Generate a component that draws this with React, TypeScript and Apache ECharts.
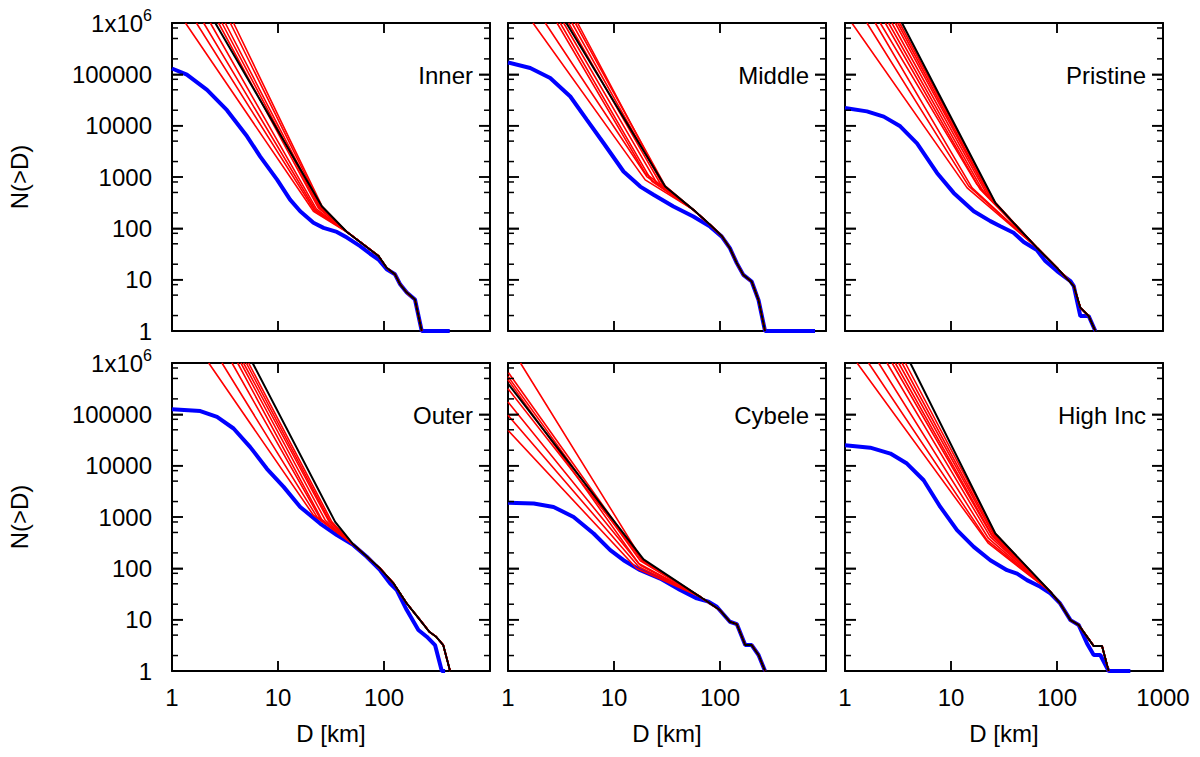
import React, { useEffect, useRef } from 'react';
import * as echarts from 'echarts';

const FONT = '"Liberation Sans", Arial, Helvetica, sans-serif';

// ---- axis data ----
const X_MIN = 1;
const X_MAX = 1000;
const Y_MIN = 1;
const Y_MAX = 1000000;
const X_MAJOR_TICKS = [1, 10, 100, 1000];
const Y_MAJOR_TICKS = [1, 10, 100, 1000, 10000, 100000, 1000000];
const Y_MINOR_TICKS = [
  2, 5, 8, 20, 50, 80, 200, 500, 800, 2000, 5000, 8000,
  20000, 50000, 80000, 200000, 500000, 800000,
];
const PANEL_NAMES = ['Inner', 'Middle', 'Pristine', 'Outer', 'Cybele', 'High Inc'];

// ---- Inner ----
const innerBlue = [
  [1, 130000], [1.38, 99000], [2.14, 50000], [3.3, 20000], [5.1, 6200], [6.8, 2500],
  [9.8, 890], [13, 363], [16.2, 215], [21.6, 128], [26.9, 102], [35.9, 85], [44.7, 66],
  [59.6, 45], [74, 32], [88.7, 24.7], [106, 15.9], [127, 12.7], [142, 8.1], [164, 5.6],
  [196, 4.1], [227, 1], [417, 1],
];
const innerBlack = [
  [2.56, 1000000], [25.9, 270], [44.7, 85], [88.7, 29], [106, 17], [127, 12.7],
  [142, 8.1], [164, 5.6], [196, 4.1], [227, 1],
];
const innerRedStarts = [
  [1.34, 1000000], [1.7, 1000000], [1.99, 1000000], [2.3, 1000000], [2.75, 1000000],
  [2.96, 1000000], [3.18, 1000000], [3.55, 1000000], [3.81, 1000000],
];
const innerRedBreaks = [
  [21.6, 215], [22, 225], [22.5, 230], [23, 240], [24, 250], [24.5, 255], [25, 260],
  [25.5, 265], [26, 270],
];

// ---- Middle ----
const middleBlue = [
  [1, 170000], [1.62, 133000], [2.5, 85000], [3.87, 37000], [5.55, 13000], [7.96, 4600],
  [12.3, 1280], [17.7, 650], [23.6, 450], [36.4, 266], [56, 170], [80.7, 108], [104, 69],
  [124, 41], [144, 21], [166, 12.4], [199, 9.2], [231, 4.0], [266, 1], [788, 1],
];
const middleBlack = [
  [3.55, 1000000], [30.4, 653], [56.2, 229], [80.7, 117], [104, 71], [124, 41], [144, 21],
  [166, 12.4], [199, 9.2], [231, 4.0], [266, 1],
];
const middleRedStarts = [
  [1.72, 1000000], [2.25, 1000000], [2.9, 1000000], [3.11, 1000000], [3.35, 1000000],
  [3.73, 1000000], [4.01, 1000000], [4.31, 1000000], [4.54, 1000000],
];
const middleRedBreaks = [
  [19.7, 880], [20.4, 1020], [19.7, 1190], [22.8, 820], [25.4, 760], [27.3, 740],
  [28.9, 705], [30.4, 673], [29.3, 694],
];

// ---- Pristine ----
const pristineBlue = [
  [1, 22000], [1.61, 19000], [2.32, 15000], [3.32, 9700], [4.78, 4500], [7.38, 1200],
  [10.6, 490], [16.4, 215], [23.5, 138], [29.2, 110], [38.9, 82], [48.5, 54], [64.6, 37.7],
  [77.6, 23], [100, 14.7], [134, 9.4], [144, 7.5], [166, 1.96], [199, 1.96], [230, 1],
];
const pristineBlack = [
  [3.45, 1000000], [26.2, 314], [38.9, 128], [64.6, 42], [100, 17], [144, 7.5],
  [166, 2.85], [199, 1.96], [230, 1],
];
const pristineRedStarts = [
  [1.16, 1000000], [1.61, 1000000], [1.93, 1000000], [2.15, 1000000], [2.4, 1000000],
  [2.58, 1000000], [2.77, 1000000], [2.98, 1000000], [3.14, 1000000], [3.28, 1000000],
];
const pristineRedBreaks = [
  [14.2, 614], [14.7, 665], [15.8, 614], [17.6, 713], [18.9, 570], [20.3, 506],
  [21.9, 455], [23.5, 393], [24.4, 363], [25.6, 337],
];

// ---- Outer ----
const outerBlue = [
  [1, 125000], [1.85, 116000], [2.66, 89000], [3.81, 53000], [5.47, 23000], [7.86, 8700],
  [11.3, 3860], [16.2, 1570], [25, 746], [35.9, 443], [51.5, 283], [68.8, 168], [92, 92],
  [114, 51], [132, 37.7], [164, 15.4], [211, 6.3], [253, 4.66], [303, 3.2], [351, 1], [377, 1],
];
const outerBlack = [
  [5.76, 1000000], [34.6, 804], [51.5, 290], [68.8, 170], [92, 99], [123, 51], [164, 20.7],
  [219, 9.8], [268, 5.8], [310, 4.66], [362, 3.2], [420, 1],
];
const outerRedStarts = [
  [2.22, 1000000], [2.96, 1000000], [3.68, 1000000], [4.16, 1000000], [4.47, 1000000],
  [4.73, 1000000], [5.02, 1000000], [5.28, 1000000],
];
const outerRedBreaks = [
  [21.6, 1084], [23.3, 1006], [25, 934], [25.9, 893], [27.9, 865], [30, 840], [31.1, 804],
  [32.2, 804],
];

// ---- Cybele ----
const cybeleBlue = [
  [1, 1900], [1.75, 1830], [2.69, 1570], [4.16, 1000], [6.42, 477], [9.22, 226], [12.3, 144],
  [17.7, 92], [27.3, 63], [42.1, 37.7], [60.4, 26], [77.8, 22.4], [93.3, 17.9], [124, 9.1],
  [144, 8.2], [173, 3.2], [199, 3.2], [231, 2.05], [266, 1],
];
const cybeleBlack = [
  [1, 395000], [19, 149], [65, 27.9], [100, 15.3], [124, 9.1], [144, 8.2], [173, 3.2],
  [199, 3.2], [231, 2.05], [266, 1],
];
const cybeleRedStarts = [
  [1.31, 1000000], [1, 667000], [1, 548000], [1, 472000], [1, 316000], [1, 174000],
  [1, 95700], [1, 49000],
];
const cybeleRedBreaks = [
  [19, 134], [18.3, 144], [17.7, 140], [17.1, 124], [18.3, 150], [17.7, 115], [17.1, 107],
  [16.4, 99],
];

// ---- High Inc ----
const highBlue = [
  [1, 25000], [1.73, 22400], [2.68, 17200], [3.84, 11000], [5.52, 5200], [7.93, 1570],
  [11.4, 553], [16.4, 262], [23.5, 144], [33.8, 92], [42, 79], [52.1, 59], [69.6, 43.7],
  [86.5, 32.4], [107, 20.7], [134, 9.8], [160, 7.9], [192, 3.45], [222, 2.05], [256, 2.05],
  [307, 1], [492, 1],
];
const highBlack = [
  [4.13, 1000000], [26.2, 477], [86.5, 35], [107, 20.7], [134, 9.8], [160, 7.9],
  [222, 3.06], [266, 3.06], [307, 1],
];
const highRedStarts = [
  [1.3, 1000000], [1.67, 1000000], [2.08, 1000000], [2.49, 1000000], [2.78, 1000000],
  [2.98, 1000000], [3.21, 1000000], [3.45, 1000000], [3.71, 1000000],
];
const highRedBreaks = [
  [22.6, 305], [21.9, 354], [22.6, 382], [23.5, 410], [24.4, 423], [24.4, 443], [25.3, 443],
  [25.6, 463], [26.2, 477],
];

// index in the black curve where the red fits rejoin it
const RED_JOIN = [2, 2, 3, 2, 2, 2];

const PANELS = [
  { blue: innerBlue, black: innerBlack, starts: innerRedStarts, breaks: innerRedBreaks },
  { blue: middleBlue, black: middleBlack, starts: middleRedStarts, breaks: middleRedBreaks },
  { blue: pristineBlue, black: pristineBlack, starts: pristineRedStarts, breaks: pristineRedBreaks },
  { blue: outerBlue, black: outerBlack, starts: outerRedStarts, breaks: outerRedBreaks },
  { blue: cybeleBlue, black: cybeleBlack, starts: cybeleRedStarts, breaks: cybeleRedBreaks },
  { blue: highBlue, black: highBlack, starts: highRedStarts, breaks: highRedBreaks },
];

// ---- layout ----
const COL_LEFT = [172, 508, 845];
const ROW_TOP = [23, 363];
const PW = 318;
const PH = 308;
const X_TICK_LEN = 10;
const Y_MAJOR_LEN = 11;
const Y_MINOR_LEN = 6;

function buildOption() {
  const grid: any[] = [];
  const xAxis: any[] = [];
  const yAxis: any[] = [];
  const series: any[] = [];

  const frame = { color: '#000', width: 2 };
  const tickLine = { color: '#000', width: 1.5 };
  const labelBase = { color: '#000', fontFamily: FONT, fontSize: 24 };

  PANELS.forEach((p, i) => {
    const r = Math.floor(i / 3);
    const c = i % 3;
    grid.push({
      left: COL_LEFT[c], top: ROW_TOP[r], width: PW, height: PH,
      containLabel: false, outerBoundsMode: 'none', show: false,
    });

    const xBase = {
      type: 'log', logBase: 10, gridIndex: i, min: X_MIN, max: X_MAX,
      splitLine: { show: false }, splitArea: { show: false }, minorTick: { show: false },
      minorSplitLine: { show: false },
      axisTick: { show: true, inside: true, length: X_TICK_LEN, lineStyle: tickLine },
      axisLine: { show: true, onZero: false, lineStyle: frame },
    };
    xAxis.push({
      ...xBase, position: 'bottom',
      axisLabel: {
        show: r === 1, margin: 14, ...labelBase,
        formatter: (v: number) => (c < 2 && v >= 999 ? '' : String(Math.round(v))),
      },
      name: r === 1 ? 'D [km]' : '', nameLocation: 'middle', nameGap: 50,
      nameTextStyle: { ...labelBase },
    });
    xAxis.push({ ...xBase, position: 'top', axisLabel: { show: false } });

    const yBase = {
      type: 'log', logBase: 10, gridIndex: i, min: Y_MIN, max: Y_MAX,
      splitLine: { show: false }, splitArea: { show: false }, minorTick: { show: false },
      minorSplitLine: { show: false },
      axisTick: { show: true, inside: true, length: Y_MAJOR_LEN, lineStyle: tickLine },
      axisLine: { show: true, onZero: false, lineStyle: frame },
    };
    yAxis.push({
      ...yBase, position: 'left',
      axisLabel: {
        show: c === 0, margin: 20, ...labelBase,
        formatter: (v: number) => (v >= 999999 ? '{b|1x10}{sup|6}' : String(Math.round(v))),
        rich: {
          b: { fontSize: 24, fontFamily: FONT, color: '#000', lineHeight: 24, verticalAlign: 'bottom' },
          sup: { fontSize: 16, fontFamily: FONT, color: '#000', lineHeight: 16, verticalAlign: 'bottom', padding: [0, 0, 12, 0] },
        },
      },
      name: c === 0 ? 'N(>D)' : '', nameLocation: 'middle', nameGap: 141,
      nameTextStyle: { ...labelBase },
    });
    yAxis.push({ ...yBase, position: 'right', axisLabel: { show: false } });

    const common = {
      type: 'line', xAxisIndex: 2 * i, yAxisIndex: 2 * i, showSymbol: false, symbol: 'none',
      clip: true, silent: true,
    };
    series.push({ ...common, name: 'observed', data: p.blue, lineStyle: { color: '#0000ff', width: 4 } });
    const tail = p.black.slice(RED_JOIN[i]);
    p.starts.forEach((s, k) => {
      series.push({
        ...common, name: 'fit', data: [s, p.breaks[k], ...tail],
        lineStyle: { color: '#ff0000', width: 1.6 },
      });
    });
    series.push({ ...common, name: 'model', data: p.black, lineStyle: { color: '#000000', width: 2 } });
  });

  return { animation: false, backgroundColor: '#fff', grid, xAxis, yAxis, series };
}

function panelLabels() {
  return PANEL_NAMES.map((name, i) => {
    const r = Math.floor(i / 3);
    const c = i % 3;
    return {
      type: 'text',
      x: COL_LEFT[c] + PW - 17,
      y: ROW_TOP[r] + 52,
      z: 60,
      silent: true,
      style: {
        text: name, font: `24px ${FONT}`, fill: '#000',
        textAlign: 'right', align: 'right', textVerticalAlign: 'middle', verticalAlign: 'middle',
      },
    };
  });
}

// inward ticks (major and 2/5/8 minor), placed through the chart's own log scales
function tickElements(chart: any) {
  const els: any[] = [];
  const style = { stroke: '#000', lineWidth: 1.5 };
  const seg = (x1: number, y1: number, x2: number, y2: number) => ({
    type: 'line', z: 50, silent: true, shape: { x1, y1, x2, y2 }, style,
  });
  PANELS.forEach((_p, i) => {
    const finder = { xAxisIndex: 2 * i, yAxisIndex: 2 * i };
    const px = (pt: number[]) => {
      let out = chart.convertToPixel(finder, pt);
      if (!Array.isArray(out)) out = chart.convertToPixel({ gridIndex: i }, pt);
      return Array.isArray(out) ? out : null;
    };
    X_MAJOR_TICKS.forEach((v) => {
      const b = px([v, Y_MIN]);
      const t = px([v, Y_MAX]);
      if (b) els.push(seg(b[0], b[1], b[0], b[1] - X_TICK_LEN));
      if (t) els.push(seg(t[0], t[1], t[0], t[1] + X_TICK_LEN));
    });
    const yTick = (v: number, len: number) => {
      const l = px([X_MIN, v]);
      const rr = px([X_MAX, v]);
      if (l) els.push(seg(l[0], l[1], l[0] + len, l[1]));
      if (rr) els.push(seg(rr[0], rr[1], rr[0] - len, rr[1]));
    };
    Y_MAJOR_TICKS.forEach((v) => yTick(v, Y_MAJOR_LEN));
    Y_MINOR_TICKS.forEach((v) => yTick(v, Y_MINOR_LEN));
  });
  return els;
}

export default function App() {
  const ref = useRef<HTMLDivElement>(null);
  useEffect(() => {
    if (!ref.current) return;
    const chart = echarts.init(ref.current, undefined, { renderer: 'svg' });
    chart.setOption(buildOption() as any);
    let ticks: any[] = [];
    try {
      ticks = tickElements(chart);
    } catch (e) {
      ticks = [];
    }
    chart.setOption({ graphic: [...panelLabels(), ...ticks] } as any);
    return () => chart.dispose();
  }, []);
  return (
    <div
      ref={ref}
      style={{ position: 'absolute', left: 0, top: 0, width: 1200, height: 757, background: '#fff' }}
    />
  );
}
